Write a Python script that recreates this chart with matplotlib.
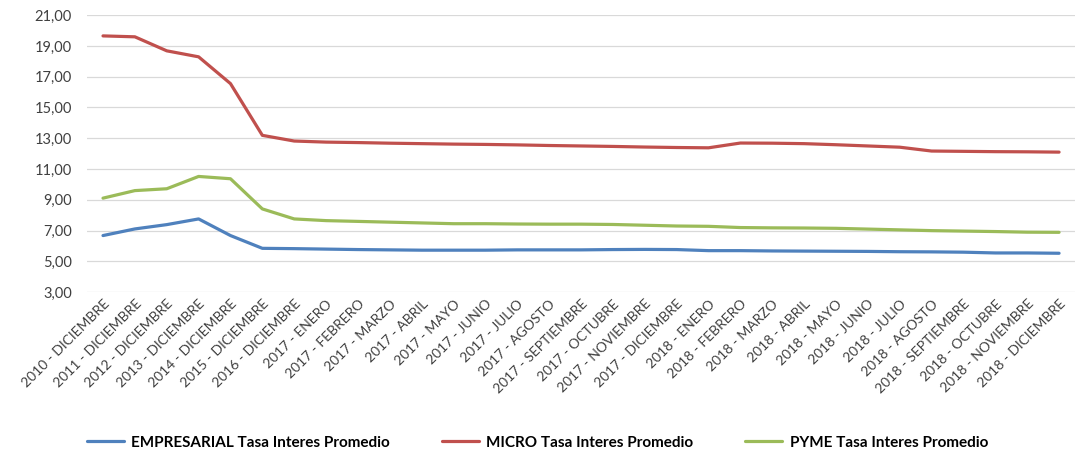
import matplotlib
matplotlib.use("Agg")
import matplotlib.pyplot as plt

meses = ["ENERO", "FEBRERO", "MARZO", "ABRIL", "MAYO", "JUNIO", "JULIO",
         "AGOSTO", "SEPTIEMBRE", "OCTUBRE", "NOVIEMBRE", "DICIEMBRE"]
categories = [f"{y} - DICIEMBRE" for y in range(2010, 2017)] + \
             [f"2017 - {m}" for m in meses] + [f"2018 - {m}" for m in meses]

empresarial = [6.68, 7.11, 7.39, 7.76, 6.68, 5.85, 5.83,
               5.80, 5.77, 5.75, 5.73, 5.73, 5.73, 5.75, 5.75, 5.75, 5.77, 5.78, 5.77,
               5.70, 5.70, 5.68, 5.67, 5.66, 5.65, 5.63, 5.62, 5.60, 5.55, 5.55, 5.53]
micro = [19.65, 19.59, 18.68, 18.29, 16.55, 13.19, 12.82,
         12.75, 12.72, 12.68, 12.65, 12.62, 12.60, 12.57, 12.53, 12.50, 12.47, 12.43, 12.40,
         12.38, 12.69, 12.68, 12.65, 12.58, 12.50, 12.42, 12.17, 12.15, 12.13, 12.12, 12.10]
pyme = [9.11, 9.60, 9.72, 10.52, 10.37, 8.41, 7.76,
        7.65, 7.60, 7.55, 7.50, 7.45, 7.45, 7.43, 7.42, 7.42, 7.40, 7.35, 7.30,
        7.28, 7.20, 7.18, 7.17, 7.15, 7.10, 7.05, 7.00, 6.97, 6.94, 6.90, 6.89]

series_names = ["EMPRESARIAL Tasa Interes Promedio", "MICRO Tasa Interes Promedio",
                "PYME Tasa Interes Promedio"]
colors = ["#4F81BD", "#C0504D", "#9BBB59"]
yticks = [3, 5, 7, 9, 11, 13, 15, 17, 19, 21]

plt.rcParams['font.family'] = ['Lato', 'DejaVu Sans']

fig = plt.figure(figsize=(10.75, 4.58), dpi=100)
ax = fig.add_axes([0.081, 0.362, 0.919, 0.605])

x = list(range(len(categories)))
for vals, name, c in zip([empresarial, micro, pyme], series_names, colors):
    ax.plot(x, vals, color=c, lw=2.3, label=name, solid_capstyle='round',
            solid_joinstyle='round')

ax.set_ylim(3, 21)
ax.set_xlim(-0.5, len(categories) - 0.5)
ax.set_yticks(yticks)
ax.set_yticklabels([f"{v:.2f}".replace(".", ",") for v in yticks],
                   fontsize=10.5, color="#404040")
ax.set_xticks(x)
ax.set_xticklabels(categories, rotation=45, ha='right', rotation_mode='anchor',
                   fontsize=10, color="#404040")
ax.tick_params(axis='y', length=0, pad=11)
ax.tick_params(axis='x', length=0, pad=4)
ax.grid(axis='y', color="#D9D9D9", lw=0.9)
ax.set_axisbelow(True)
for s in ax.spines.values():
    s.set_visible(False)

leg = fig.legend(loc='lower center', bbox_to_anchor=(0.5, -0.012), ncol=3,
                 frameon=False, handlelength=2.4, handletextpad=0.5,
                 columnspacing=3.4,
                 prop={'weight': 'bold', 'size': 11})
fig.savefig("out.png", dpi=100)
